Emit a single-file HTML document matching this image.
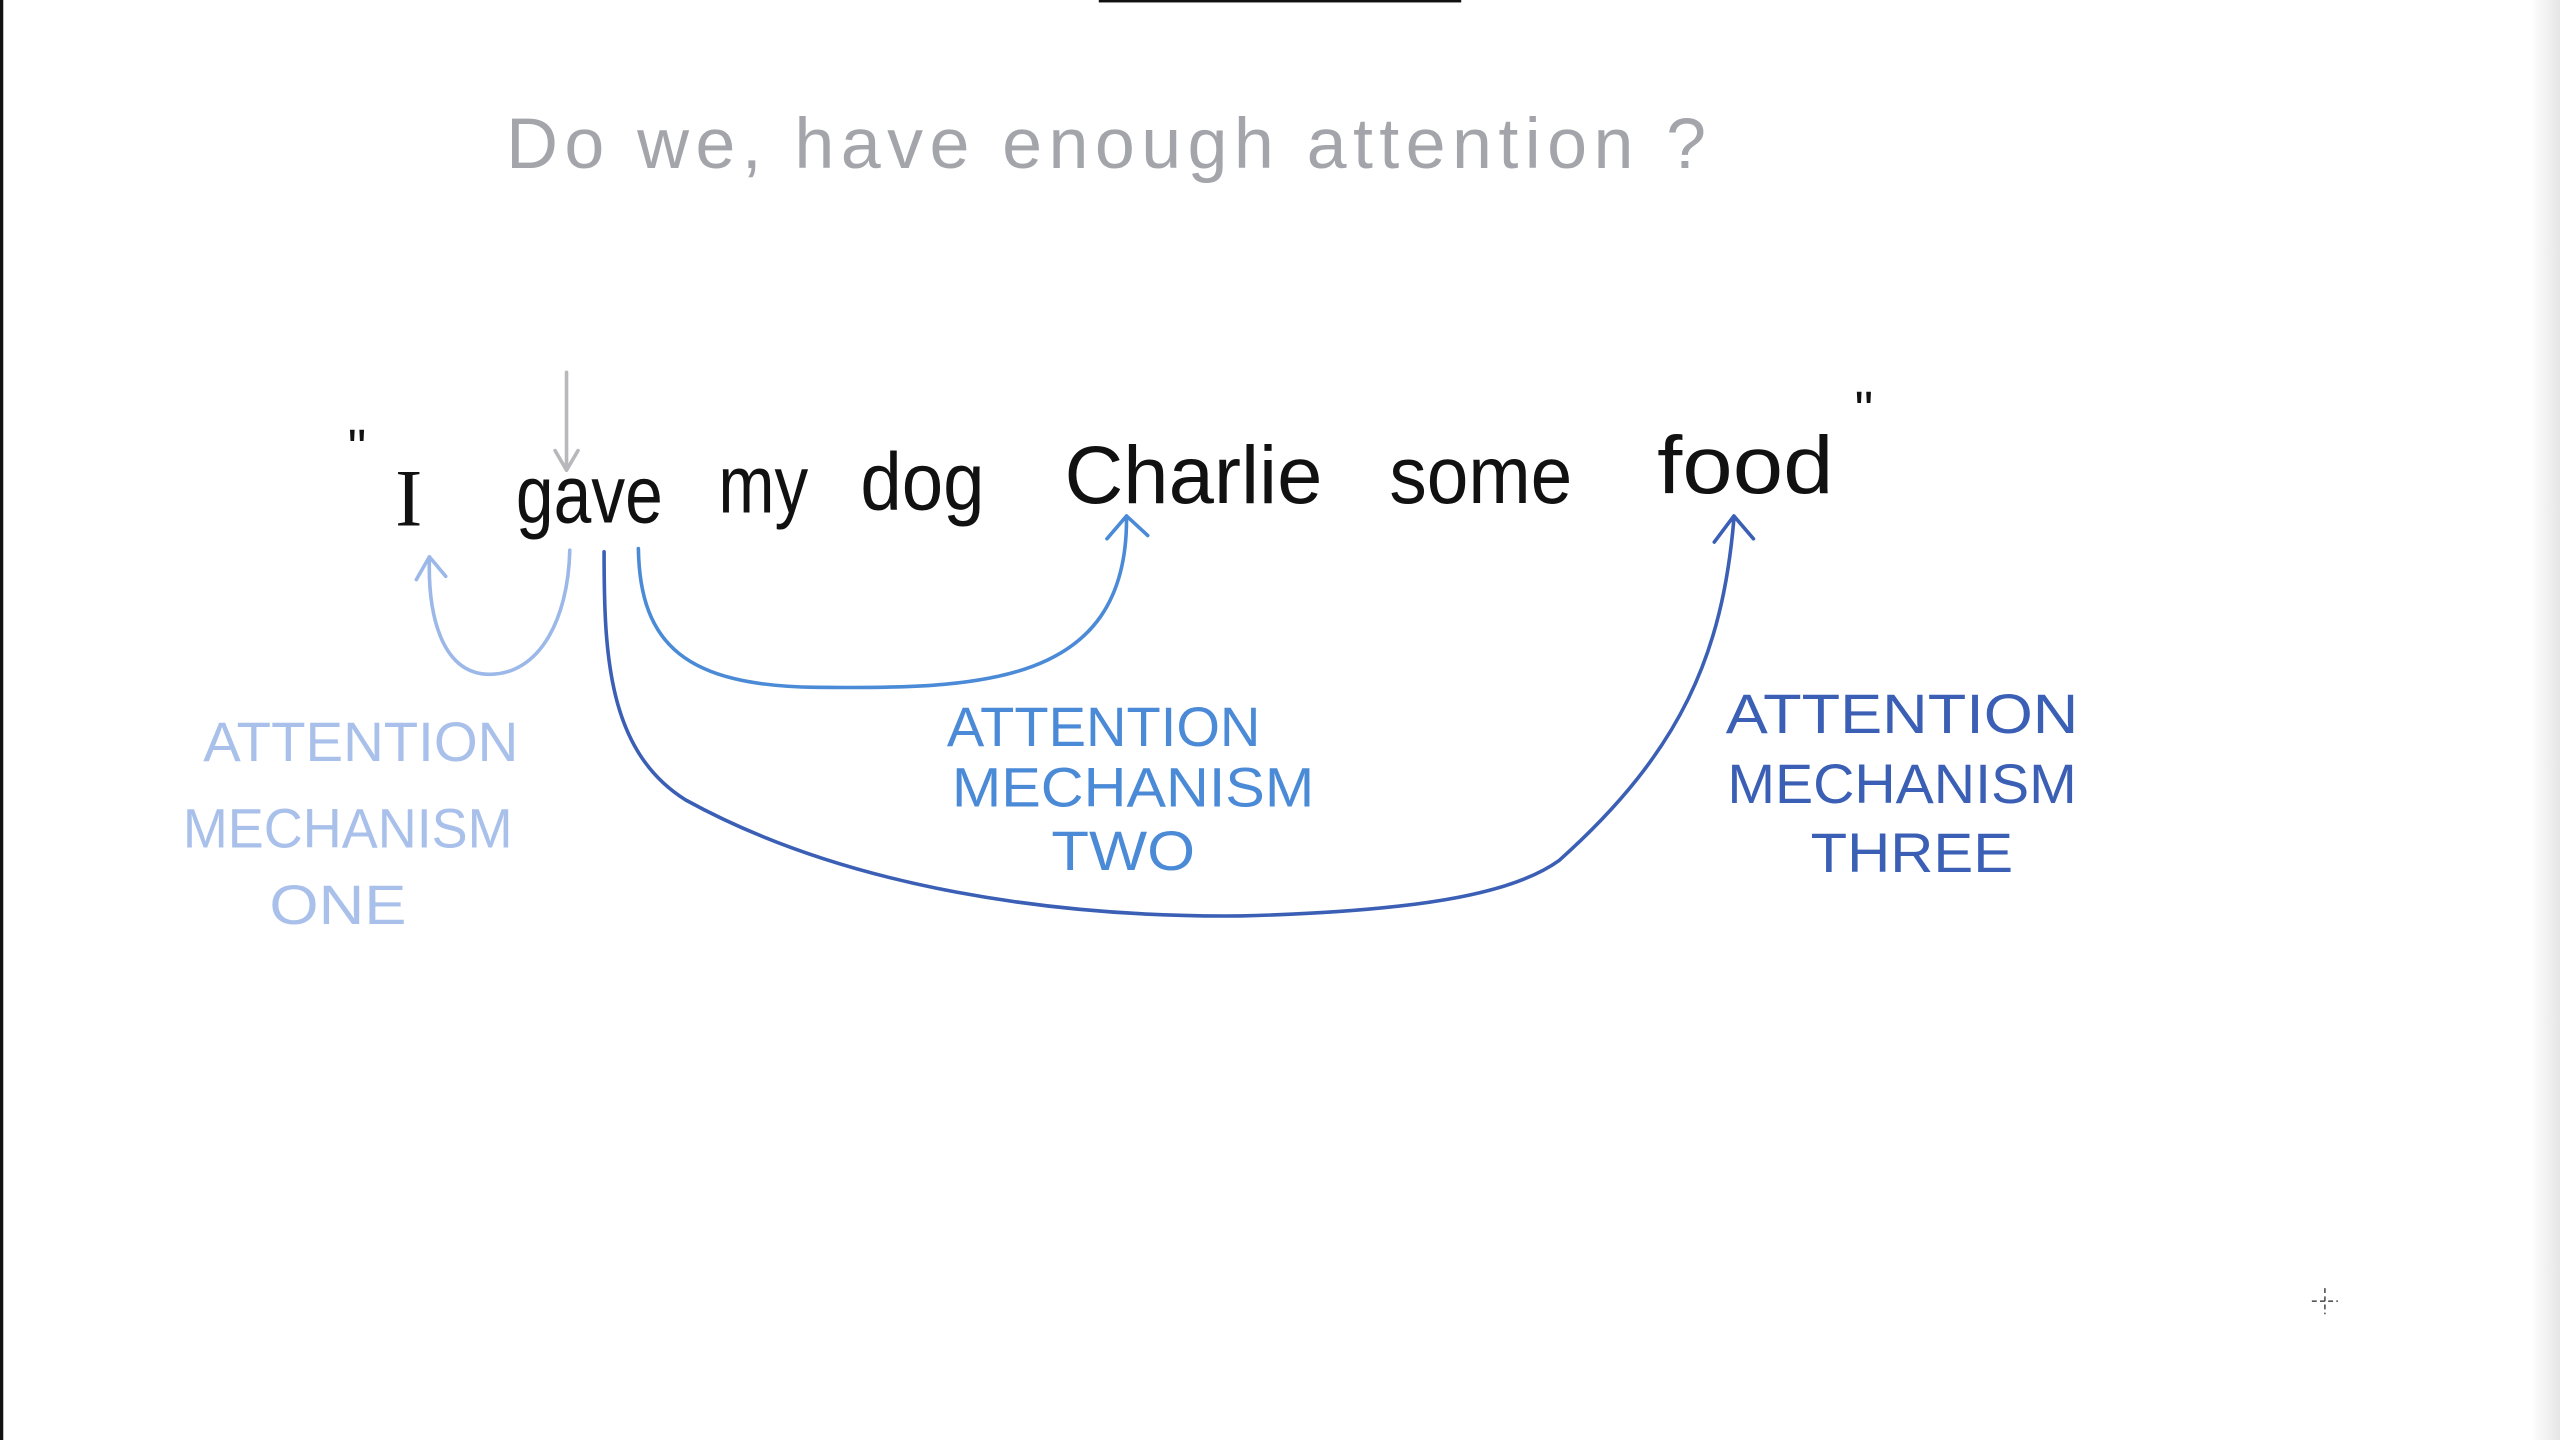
<!DOCTYPE html>
<html><head><meta charset="utf-8"><style>
html,body{margin:0;padding:0;background:#fff;}
svg{display:block}
</style></head><body>
<svg width="2560" height="1440" viewBox="0 0 1568 882" preserveAspectRatio="none" xmlns="http://www.w3.org/2000/svg" font-family="Liberation Sans, sans-serif">
<defs><linearGradient id="sh" x1="0" x2="1"><stop offset="0" stop-color="#fff"/><stop offset="1" stop-color="#e6e6e6"/></linearGradient></defs>
<rect width="1568" height="882" fill="#fff"/>
<rect x="1550" y="0" width="18" height="882" fill="url(#sh)"/>
<rect x="0" y="0" width="2" height="882" fill="#111"/>
<rect x="673" y="0" width="222" height="1.5" fill="#111"/>
<text x="310" y="103" font-size="44" fill="#a3a5aa" textLength="735" lengthAdjust="spacing">Do we, have enough attention ?</text>
<g fill="#111" font-size="50">
<text x="242" y="322" font-family="Liberation Serif, serif">I</text>
<text x="316" y="320" textLength="90" lengthAdjust="spacingAndGlyphs">gave</text>
<text x="440" y="314" textLength="55" lengthAdjust="spacingAndGlyphs">my</text>
<text x="527" y="312" textLength="76" lengthAdjust="spacingAndGlyphs">dog</text>
<text x="652" y="308" textLength="158" lengthAdjust="spacingAndGlyphs">Charlie</text>
<text x="851" y="308" textLength="112" lengthAdjust="spacingAndGlyphs">some</text>
<text x="1015" y="302" textLength="108" lengthAdjust="spacingAndGlyphs">food</text>
<text x="213" y="285" font-size="32">"</text>
<text x="1136" y="262" font-size="32">"</text>
</g>
<g fill="none" stroke-width="2.2" stroke-linecap="round" stroke-linejoin="round">
<path d="M347 228 V288 M340 276 L347 288 L354 276" stroke="#b8b8bc"/>
<path d="M349 337 C348 380 330 413 300 413 C272 413 262 380 263 342 M255 355 L263 341 L273 353" stroke="#9bb8e8"/>
<path d="M391 336 C392 395 420 420 500 421 C600 422 690 420 690 318 M678 330 L690 316 L703 328" stroke="#4a8ad6"/>
<path d="M370 338 C370 400 372 460 420 490 C520 545 650 562 760 561 C880 558 930 545 955 527 C1030 460 1055 400 1062 318 M1050 332 L1062 316 L1074 330" stroke="#3a5fb5"/>
</g>
<g font-size="34" text-anchor="middle">
<g fill="#a9c1ea">
<text x="221" y="466" textLength="193" lengthAdjust="spacingAndGlyphs">ATTENTION</text>
<text x="213" y="519" textLength="202" lengthAdjust="spacingAndGlyphs">MECHANISM</text>
<text x="207" y="566" textLength="84" lengthAdjust="spacingAndGlyphs">ONE</text>
</g>
<g fill="#4a8ad6">
<text x="676" y="457" textLength="192" lengthAdjust="spacingAndGlyphs">ATTENTION</text>
<text x="694" y="494" textLength="222" lengthAdjust="spacingAndGlyphs">MECHANISM</text>
<text x="688" y="533" textLength="88" lengthAdjust="spacingAndGlyphs">TWO</text>
</g>
<g fill="#3a5fb5">
<text x="1165" y="449" textLength="216" lengthAdjust="spacingAndGlyphs">ATTENTION</text>
<text x="1165" y="492" textLength="214" lengthAdjust="spacingAndGlyphs">MECHANISM</text>
<text x="1171" y="534" textLength="124" lengthAdjust="spacingAndGlyphs">THREE</text>
</g>
</g>
<path d="M1424 789 V805 M1416 797 H1432" stroke="#555" stroke-width="1" stroke-dasharray="3,2"/>
</svg>
</body></html>
